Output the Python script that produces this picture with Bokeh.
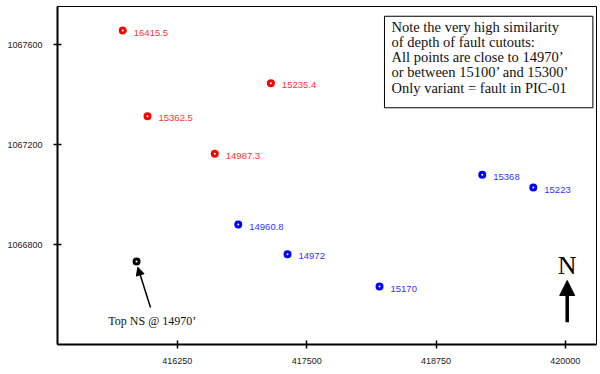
from bokeh.plotting import figure
from bokeh.models import (Arrow, NormalHead, BoxAnnotation, Range1d, FixedTicker,
                          ColumnDataSource)
from bokeh.core.properties import value
from bokeh.embed import file_html
from bokeh.resources import INLINE

# ---- data ----
red_x = [415723, 415962, 417154, 416612]
red_y = [1067657, 1067314, 1067446, 1067164]
red_labels = ["16415.5", "15362.5", "15235.4", "14987.3"]

blue_x = [419197, 419690, 416839, 417315, 418204]
blue_y = [1067080, 1067029, 1066881, 1066762, 1066633]
blue_labels = ["15368", "15223", "14960.8", "14972", "15170"]

black_x = [415856]
black_y = [1066733]

x_ticks = [416250, 417500, 418750, 420000]
x_tick_labels = ["416250", "417500", "418750", "420000"]
y_ticks = [1066800, 1067200, 1067600]
y_tick_labels = ["1066800", "1067200", "1067600"]

note_lines = [
    "Note the very high similarity",
    "of depth of fault cutouts:",
    "All points are close to 14970\u2019",
    "or between 15100\u2019 and 15300\u2019",
    "Only variant = fault in PIC-01",
]
note_box = dict(left=418252, right=420266, top=1067714, bottom=1067348)
note_x = 418320
note_y = [1067673, 1067612, 1067551, 1067490, 1067428]

ns_label = "Top NS @ 14970\u2019"
ns_label_pos = (416008, 1066494)
ns_arrow = dict(x_start=415991, y_start=1066549, x_end=415868, y_end=1066710)

north_pos = (420018, 1066717)
north_arrow = dict(x_start=420018, y_start=1066490, x_end=420018, y_end=1066657)

# ---- figure ----
p = figure(width=600, height=374,
           x_range=Range1d(415092, 420301), y_range=Range1d(1066401, 1067753),
           output_backend="svg", toolbar_location=None,
           min_border_left=57, min_border_right=4, min_border_top=6,
           min_border_bottom=30)
p.xgrid.visible = False
p.ygrid.visible = False
p.outline_line_color = "black"
p.outline_line_width = 1
p.outline_line_alpha = 1.0

for ax in (p.xaxis[0], p.yaxis[0]):
    ax.axis_line_width = 2
    ax.axis_line_color = "black"
    ax.major_tick_in = 4
    ax.major_tick_out = 4
    ax.major_tick_line_width = 1.5
    ax.major_tick_line_color = "black"
    ax.minor_tick_line_color = None
    ax.major_label_text_font = "Liberation Sans"
    ax.major_label_text_font_size = "9px"
    ax.major_label_text_color = "#222222"

p.xaxis[0].ticker = FixedTicker(ticks=x_ticks)
p.xaxis[0].major_label_overrides = dict(zip(x_ticks, x_tick_labels))
p.xaxis[0].major_label_standoff = 9
p.yaxis[0].ticker = FixedTicker(ticks=y_ticks)
p.yaxis[0].major_label_overrides = dict(zip(y_ticks, y_tick_labels))
p.yaxis[0].major_label_standoff = 11

# ---- points ----
red_src = ColumnDataSource(dict(x=red_x, y=red_y, t=red_labels))
blue_src = ColumnDataSource(dict(x=blue_x, y=blue_y, t=blue_labels))

for src, col, tcol in ((red_src, "#FF0000", "#FF3333"),
                       (blue_src, "#0000FF", "#3333FF")):
    p.scatter("x", "y", source=src, size=5, line_width=3,
              line_color=col, fill_color="white")
    p.text("x", "y", text="t", source=src, x_offset=11, y_offset=2,
           text_baseline="middle", text_align="left",
           text_font=value("Liberation Sans"), text_font_size="9.5px",
           text_color=tcol)

p.scatter(black_x, black_y, size=5, line_width=3, line_color="black",
          fill_color="white")

# ---- Top NS annotation ----
p.add_layout(Arrow(end=NormalHead(size=8, fill_color="black", line_color="black"),
                   line_width=1.5, line_color="black", **ns_arrow))
p.text([ns_label_pos[0]], [ns_label_pos[1]], text=[ns_label],
       text_align="center", text_baseline="middle",
       text_font=value("Liberation Serif"), text_font_size="12px",
       text_color="#111111")

# ---- north arrow ----
p.text([north_pos[0]], [north_pos[1]], text=["N"],
       text_align="center", text_baseline="middle",
       text_font=value("Liberation Serif"), text_font_size="26px",
       text_color="black")
p.add_layout(Arrow(end=NormalHead(size=15, fill_color="black", line_color="black"),
                   line_width=3.5, line_color="black", **north_arrow))

# ---- note box ----
p.add_layout(BoxAnnotation(fill_color=None, line_color="black", line_width=1,
                           line_alpha=1, **note_box))
p.text([note_x] * len(note_lines), note_y, text=note_lines,
       text_align="left", text_baseline="middle",
       text_font=value("Liberation Serif"), text_font_size="14.5px",
       text_color="#111111")

open("out.html", "w").write(file_html(p, INLINE))
